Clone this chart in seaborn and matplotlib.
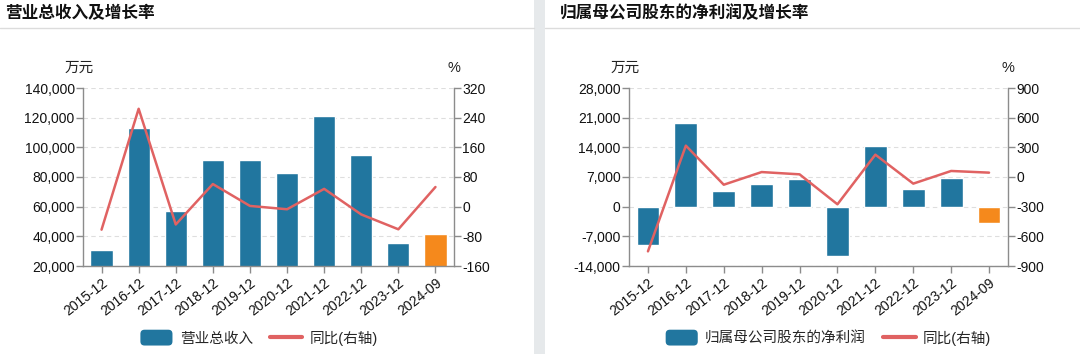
import numpy as np
import pandas as pd
import matplotlib.pyplot as plt
import seaborn as sns
from matplotlib.patches import Rectangle, FancyBboxPatch, Patch
from matplotlib.lines import Line2D
from matplotlib.legend_handler import HandlerPatch

# data
periods = ['2015-12', '2016-12', '2017-12', '2018-12', '2019-12',
           '2020-12', '2021-12', '2022-12', '2023-12', '2024-09']
revenue = [31000, 112800, 56900, 91200, 91200, 82900, 121300, 95000, 35500, 41800]
revenue_yoy = [-62, 264, -48, 61, 2, -7, 48, -21, -61, 53]
profit = [-9100, 19800, 3600, 5300, 6600, -11600, 14200, 4200, 6700, -3800]
profit_yoy = [-752, 317, -78, 50, 27, -276, 226, -67, 61, 44]

BLUE = '#21769f'
ORANGE = '#f5891c'
RED = '#e06262'
AXIS = '#8c8c8c'

sns.set_style('white')
plt.rcParams['font.family'] = ['Liberation Sans', 'Noto Sans CJK SC']
plt.rcParams['axes.unicode_minus'] = False


class RoundBox(HandlerPatch):
    def create_artists(self, legend, orig_handle, xdescent, ydescent,
                       width, height, fontsize, trans):
        p = FancyBboxPatch((-xdescent, -ydescent - 1), width, height + 2,
                           boxstyle='round,pad=0,rounding_size=3',
                           fc=orig_handle.get_facecolor(), ec='none',
                           transform=trans)
        return [p]


def draw_panel(fig, rect, values, yoy, ylim, yticks, ylim2, yticks2, name, leg_x):
    ax = fig.add_axes(rect)
    df = pd.DataFrame({'period': periods, 'value': values, 'yoy': yoy})
    colors = [BLUE] * (len(periods) - 1) + [ORANGE]
    sns.barplot(data=df, x='period', y='value', hue='period', palette=colors,
                legend=False, width=0.6, ax=ax, saturation=1)
    ax.set_xlim(-0.5, len(periods) - 0.5)
    ax.set_ylim(*ylim)
    ax.set_yticks(yticks)
    ax.set_yticklabels([f'{v:,}' for v in yticks])
    ax.yaxis.grid(True, color='#dedede', linestyle=(0, (4, 3)), linewidth=0.8)
    ax.set_axisbelow(True)
    ax.set_xlabel('')
    ax.set_ylabel('')
    ax.tick_params(axis='both', colors=AXIS, labelcolor='#111111', labelsize=10,
                   length=5, width=1, direction='out')
    ax.tick_params(axis='y', left=True, pad=1)
    ax.tick_params(axis='x', bottom=True, pad=2)
    for lab in ax.get_xticklabels():
        lab.set_rotation(38)
        lab.set_ha('right')
        lab.set_rotation_mode('anchor')
    for s in ['top', 'right']:
        ax.spines[s].set_visible(False)
    for s in ['left', 'bottom']:
        ax.spines[s].set_color(AXIS)
        ax.spines[s].set_linewidth(1)

    ax2 = ax.twinx()
    sns.lineplot(data=df, x='period', y='yoy', sort=False, color=RED,
                 linewidth=1.8, ax=ax2)
    ax2.set_ylim(*ylim2)
    ax2.set_yticks(yticks2)
    ax2.set_yticklabels([str(v) for v in yticks2])
    ax2.set_ylabel('')
    ax2.set_xlabel('')
    ax2.tick_params(axis='y', colors=AXIS, labelcolor='#111111', labelsize=10,
                    length=5, width=1, right=True, pad=1)
    for s in ['top', 'left', 'bottom']:
        ax2.spines[s].set_visible(False)
    ax2.spines['right'].set_color(AXIS)
    ax2.spines['right'].set_linewidth(1)

    ax.text(-0.01, 1.115, '万元', transform=ax.transAxes, ha='center',
            va='center', fontsize=10.5, color='#222222')
    ax.text(1.0, 1.11, '%', transform=ax.transAxes, ha='center',
            va='center', fontsize=10.5, color='#222222')

    handles = [Patch(facecolor=BLUE), Line2D([], [], color=RED, linewidth=3)]
    fig.legend(handles, [name, '同比(右轴)'], loc='center',
               bbox_to_anchor=(leg_x, 0.045), ncol=2, frameon=False,
               fontsize=10.5, handlelength=2.2, handleheight=1.0,
               handletextpad=0.5, columnspacing=1.2,
               handler_map={Patch: RoundBox()})
    return ax


fig = plt.figure(figsize=(10.8, 3.54), dpi=100)
fig.patch.set_facecolor('white')

# gray gap between the two cards
fig.patches.append(Rectangle((534 / 1080, 0), 11 / 1080, 1, transform=fig.transFigure,
                             facecolor='#e6e9eb', edgecolor='none', zorder=0))
# title separators
fig.add_artist(Line2D([0, 534 / 1080], [1 - 28 / 354] * 2, color='#dcdcdc', linewidth=1))
fig.add_artist(Line2D([545 / 1080, 1], [1 - 28 / 354] * 2, color='#dcdcdc', linewidth=1))

fig.text(5 / 1080, 1 - 13 / 354, '营业总收入及增长率', fontsize=12, fontweight='bold',
         ha='left', va='center', color='#111111')
fig.text(560 / 1080, 1 - 13 / 354, '归属母公司股东的净利润及增长率', fontsize=12,
         fontweight='bold', ha='left', va='center', color='#111111')

bottom = 1 - 266 / 354
height = 178 / 354
draw_panel(fig, [83 / 1080, bottom, 371 / 1080, height], revenue, revenue_yoy,
           (20000, 140000), list(range(20000, 140001, 20000)),
           (-160, 320), list(range(-160, 321, 80)), '营业总收入', 0.24)
draw_panel(fig, [629 / 1080, bottom, 379 / 1080, height], profit, profit_yoy,
           (-14000, 28000), list(range(-14000, 28001, 7000)),
           (-900, 900), list(range(-900, 901, 300)), '归属母公司股东的净利润', 0.767)

fig.savefig('out.png', dpi=100, facecolor='white')
